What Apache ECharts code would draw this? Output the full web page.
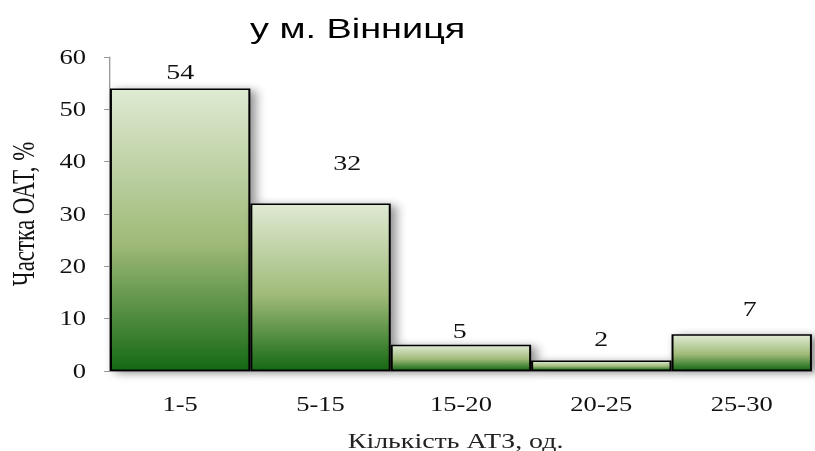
<!DOCTYPE html>
<html>
<head>
<meta charset="utf-8">
<script src="https://cdn.jsdelivr.net/npm/echarts@6/dist/echarts.min.js"></script>
<style>
  html, body { margin: 0; padding: 0; background: #fff; overflow: hidden; }
  /* оригінал — розтягнутий по горизонталі рисунок, тому малюємо вужче й розтягуємо */
  #chart { width: 613px; height: 451px; transform: scaleX(1.3295); transform-origin: 0 0; }
</style>
</head>
<body>
<div id="chart"></div>
<script>
const categories = ['1-5', '5-15', '15-20', '20-25', '25-30']
const shares = [54, 32, 5, 2, 7]
const yTicks = [0, 10, 20, 30, 40, 50, 60]
// зсуви підписів над стовпцями, як у оригіналі
const labelOffsets = [[0, 0], [20, -24], [-1, 2], [0, -5], [6, -9]]

const serif = '"Liberation Serif", "DejaVu Serif", serif'

const chart = echarts.init(document.getElementById('chart'), null, { renderer: 'svg' })

const barData = shares.map((v, i) => ({
  value: v,
  label: { offset: labelOffsets[i] }
}))

chart.setOption({
  animation: false,
  title: {
    text: 'у м. Вінниця',
    left: 264,
    top: 9,
    textAlign: 'center',
    textStyle: {
      fontFamily: '"Liberation Sans", Arial, sans-serif',
      fontSize: 28.5,
      fontWeight: 'normal',
      color: '#000'
    }
  },
  grid: {
    left: 82.7,
    right: 2.3,
    top: 57,
    bottom: 80,
    outerBoundsMode: 'none'
  },
  xAxis: {
    type: 'category',
    data: categories,
    name: 'Кількість АТЗ, од.',
    nameLocation: 'middle',
    nameGap: 59,
    nameTextStyle: {
      fontFamily: serif,
      fontSize: 21,
      color: '#222',
      padding: [0, 8, 0, 0]
    },
    axisLine: { show: true, lineStyle: { color: '#999' } },
    axisTick: { show: false },
    axisLabel: {
      fontFamily: serif,
      fontSize: 20,
      color: '#111',
      margin: 23
    }
  },
  yAxis: {
    type: 'value',
    min: 0,
    max: yTicks[yTicks.length - 1],
    interval: 10,
    name: 'Частка ОАТ, %',
    nameLocation: 'middle',
    nameGap: 53,
    nameRotate: 90,
    nameTextStyle: {
      fontFamily: serif,
      fontSize: 23,
      color: '#111',
      padding: [0, 0, 0, 0]
    },
    splitLine: { show: false },
    axisLine: { show: true, lineStyle: { color: '#999' } },
    axisTick: { show: true, inside: false, length: 4.5, lineStyle: { color: '#999' } },
    axisLabel: {
      fontFamily: serif,
      fontSize: 20,
      color: '#111',
      margin: 18
    }
  },
  series: [{
    type: 'bar',
    data: barData,
    barWidth: '100%',
    barCategoryGap: 0,
    itemStyle: {
      color: new echarts.graphic.LinearGradient(0, 0, 0, 1, [
        { offset: 0, color: '#dfead3' },
        { offset: 0.55, color: '#9fba78' },
        { offset: 1, color: '#156915' }
      ]),
      borderColor: '#000',
      borderWidth: 1.5,
      shadowColor: 'rgba(0,0,0,0.45)',
      shadowBlur: 8,
      shadowOffsetX: 4,
      shadowOffsetY: 2
    },
    label: {
      show: true,
      position: 'top',
      distance: 6,
      fontFamily: serif,
      fontSize: 21,
      color: '#111'
    }
  }]
})
</script>
</body>
</html>
